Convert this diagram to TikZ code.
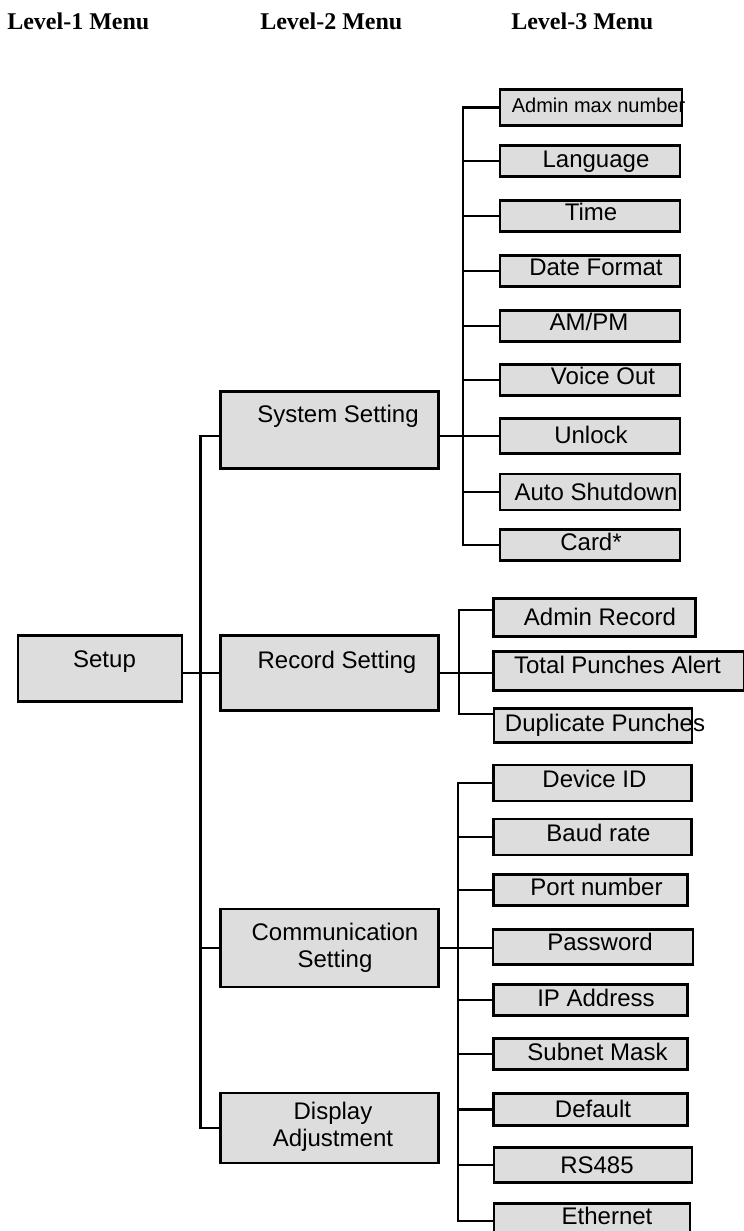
\documentclass[tikz,border=0pt]{standalone}
\usepackage{fontspec}
\setmainfont{Liberation Sans}
\newfontfamily\headfont{Liberation Serif}
\usetikzlibrary{calc}

\definecolor{boxgray}{RGB}{221,221,221}

\tikzset{
  menubox/.style={draw=black, fill=boxgray, line width=2.1pt, inner sep=0pt},
  menutext/.style={font=\fontsize{18}{20.6}\selectfont, inner sep=0pt, text height=12.9pt, text depth=0pt},
  menusmall/.style={font=\fontsize{15}{18}\selectfont, inner sep=0pt, text height=10.7pt, text depth=0pt},
  menutwo/.style={font=\fontsize{18}{20.6}\selectfont, inner sep=0pt, align=center},
  headtext/.style={font=\headfont\bfseries\fontsize{18}{21}\selectfont, inner sep=0pt, anchor=base west},
  link/.style={line width=1.8pt},
  trunk/.style={line width=1.6pt},
}

\begin{document}
\begin{tikzpicture}[x=0.75pt,y=0.75pt,yscale=-1,xscale=1]

            \useasboundingbox (0,0) rectangle (743,1231);

            % Column headings
            \node [headtext] (hone)   at (7,29.5)   {Level-1 Menu};
            \node [headtext] (htwo)   at (260,29.5) {Level-2 Menu};
            \node [headtext] (hthree) at (511,29.5) {Level-3 Menu};

            % Level-1
            \node [menubox, minimum width=123pt, minimum height=49pt, label={[menutext, shift={(4.5,9.5)}]center:Setup}] (setup) at (100,668.5) {};

            % Level-2
            \node [menubox, minimum width=164pt, minimum height=58pt, label={[menutext, shift={(8.5,16)}]center:System Setting}] (sys) at (329.5,430) {};
            \node [menubox, minimum width=164pt, minimum height=56.5pt, label={[menutext, shift={(7.5,13.5)}]center:Record Setting}] (rec) at (329.5,673) {};
            \node [menubox, minimum width=164pt, minimum height=58.5pt, label={[menutwo, shift={(5.5,0)}]center:Communication\\Setting}] (comm) at (329.5,948) {};
            \node [menubox, minimum width=164pt, minimum height=52.5pt, label={[menutwo, shift={(3.5,1)}]center:Display\\Adjustment}] (disp) at (329.5,1128) {};

            % Level-3, System Setting
            \node [menubox, minimum width=136.5pt, minimum height=26.5pt, label={[menusmall, shift={(7.5,2.5)}]center:Admin max number}] (amax) at (591,107.5) {};
            \node [menubox, minimum width=135pt, minimum height=23.5pt, label={[menutext, shift={(6,2)}]center:Language}] (lang) at (590,161) {};
            \node [menubox, minimum width=135pt, minimum height=23pt, label={[menutext, shift={(1,4)}]center:Time}] (time) at (590,216) {};
            \node [menubox, minimum width=135pt, minimum height=23.5pt, label={[menutext, shift={(6,4)}]center:Date Format}] (datef) at (590,271) {};
            \node [menubox, minimum width=135pt, minimum height=23.5pt, label={[menutext, shift={(-1,4)}]center:AM/PM}] (ampm) at (590,326) {};
            \node [menubox, minimum width=135pt, minimum height=23.5pt, label={[menutext, shift={(13,4.5)}]center:Voice Out}] (voice) at (590,380) {};
            \node [menubox, minimum width=135pt, minimum height=26.5pt, label={[menutext, shift={(1,1)}]center:Unlock}] (unlock) at (590,436) {};
            \node [menubox, minimum width=135pt, minimum height=27pt, label={[menutext, shift={(6,0)}]center:Auto Shutdown}] (auto) at (590,492) {};
            \node [menubox, minimum width=135pt, minimum height=23.5pt, label={[menutext, shift={(1,3)}]center:Card*}] (card) at (590,545) {};

            % Level-3, Record Setting
            \node [menubox, minimum width=151pt, minimum height=28pt, label={[menutext, shift={(5.5,1)}]center:Admin Record}] (adrec) at (594.5,617.5) {};
            \node [menubox, minimum width=188pt, minimum height=29.5pt, label={[menutext, shift={(-1.5,6)}]center:Total Punches Alert}] (total) at (619,671) {};
            \node [menubox, minimum width=148.5pt, minimum height=25pt, label={[menutext, shift={(12,3)}]center:Duplicate Punches}] (dup) at (593,725.5) {};

            % Level-3, Communication Setting
            \node [menubox, minimum width=149pt, minimum height=27pt, label={[menutext, shift={(2,4.5)}]center:Device ID}] (devid) at (592.5,783) {};
            \node [menubox, minimum width=149pt, minimum height=27pt, label={[menutext, shift={(6,4.5)}]center:Baud rate}] (baud) at (592.5,837) {};
            \node [menubox, minimum width=146pt, minimum height=23.5pt, label={[menutext, shift={(6,3)}]center:Port number}] (port) at (590.5,890) {};
            \node [menubox, minimum width=150pt, minimum height=26.5pt, label={[menutext, shift={(7,5.5)}]center:Password}] (pass) at (593,947) {};
            \node [menubox, minimum width=146pt, minimum height=23.5pt, label={[menutext, shift={(5.5,2)}]center:IP Address}] (ipad) at (590.5,1000) {};
            \node [menubox, minimum width=146pt, minimum height=23pt, label={[menutext, shift={(7,2)}]center:Subnet Mask}] (subnet) at (590.5,1054) {};
            \node [menubox, minimum width=146pt, minimum height=23.5pt, label={[menutext, shift={(2.5,1)}]center:Default}] (deflt) at (590.5,1109.5) {};
            \node [menubox, minimum width=148.5pt, minimum height=26pt, label={[menutext, shift={(4,0)}]center:RS485}] (rsf) at (593,1165) {};
            \node [menubox, minimum width=147pt, minimum height=26.5pt, label={[menutext, shift={(15,5)}]center:Ethernet}] (eth) at (592,1221) {};

            % Trunk lines
            \coordinate (trunkone) at (200.5,700);
            \coordinate (trunksys) at (463,300);
            \coordinate (trunkrec) at (459,672);
            \coordinate (trunkcom) at (458,1000);

            % Level-1 to Level-2
            \draw [trunk] (sys.west |- unlock.west) -| (trunkone) |- (disp.west);
            \draw [link]  (setup.east |- rec.west) -- (rec.west);
            \draw [link]  (comm.west -| trunkone) -- (comm.west);

            % System Setting to Level-3
            \draw [link] (sys.east |- unlock.west) -- (unlock.west);
            \draw [link] (amax.west) -| (trunksys) |- (card.west);
            \draw [link] (lang.west)  -- (lang.west -| trunksys);
            \draw [link] (time.west)  -- (time.west -| trunksys);
            \draw [link] (datef.west) -- (datef.west -| trunksys);
            \draw [link] (ampm.west)  -- (ampm.west -| trunksys);
            \draw [link] (voice.west) -- (voice.west -| trunksys);
            \draw [link] (auto.west)  -- (auto.west -| trunksys);

            % Record Setting to Level-3
            \draw [link] (rec.east) -- (rec.east -| total.west);
            \draw [link] ($(adrec.west)+(0,-7.5)$) -| (trunkrec) |- ($(dup.west)+(0,-11.5)$);

            % Communication Setting to Level-3
            \draw [link] (comm.east) -- (comm.east -| pass.west);
            \draw [link] (devid.west) -| (trunkcom) |- (eth.west);
            \draw [link] (baud.west)   -- (baud.west -| trunkcom);
            \draw [link] (port.west)   -- (port.west -| trunkcom);
            \draw [link] (ipad.west)   -- (ipad.west -| trunkcom);
            \draw [link] (subnet.west) -- (subnet.west -| trunkcom);
            \draw [link] (deflt.west)  -- (deflt.west -| trunkcom);
            \draw [link] (rsf.west)    -- (rsf.west -| trunkcom);

\end{tikzpicture}
\end{document}
